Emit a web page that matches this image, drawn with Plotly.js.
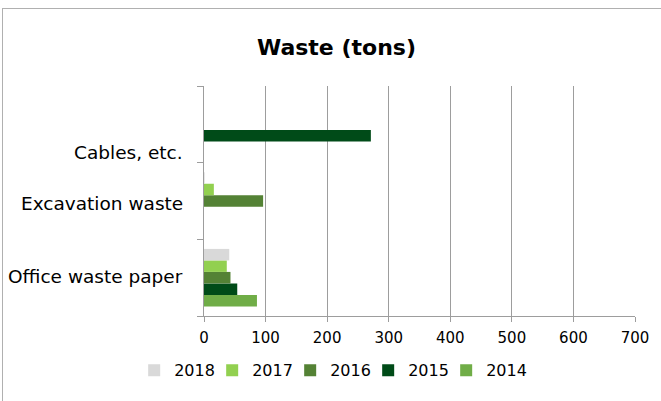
<!DOCTYPE html>
<html>
<head>
<meta charset="utf-8">
<script src="https://cdn.plot.ly/plotly-3.0.1.min.js"></script>
<style>
  html, body { margin: 0; padding: 0; background: #fff; }
  #wrap { position: relative; width: 661px; height: 401px; overflow: hidden; }
  #frame { position: absolute; left: 2px; top: 8px; width: 700px; height: 450px; border: 1px solid #b0b0b0; box-sizing: border-box; }
  #chart { position: absolute; left: 0; top: 0; width: 661px; height: 401px; }
</style>
</head>
<body>
<div id="wrap"><div id="frame"></div><div id="chart"></div></div>
<script>
const categories = ['Office waste paper', 'Excavation waste', 'Cables, etc.'];
const years = ['2014', '2015', '2016', '2017', '2018'];
const v2014 = [86, 0, 0];
const v2015 = [54, 0, 271];
const v2016 = [43, 96, 0];
const v2017 = [37, 16, 0];
const v2018 = [41, 1, 0];
const seriesValues = [v2014, v2015, v2016, v2017, v2018];
const colors = ['#70ad47', '#004b18', '#548235', '#92d050', '#d9d9d9'];

const FONT = 'Tahoma, "DejaVu Sans", Verdana, sans-serif';

// invisible spacer entry so the last legend label is not clipped
const spacer = {
  type: 'scatter', mode: 'markers', name: '\u00a0',
  x: [null], y: [null],
  marker: { color: 'rgba(0,0,0,0)', size: 1 },
  hoverinfo: 'skip', showlegend: true
};

const traces = [spacer].concat(years.map((yr, i) => ({
  type: 'bar',
  orientation: 'h',
  name: yr,
  y: categories,
  x: seriesValues[i],
  marker: { color: colors[i], line: { width: 0 } },
  hoverinfo: 'x+name'
})));

// category label vertical nudges (px), in category order
const labelShift = [1, -2, -28];
const annotations = categories.map((c, i) => ({
  text: c,
  xref: 'paper', x: 0, xanchor: 'right', xshift: -19,
  yref: 'y', y: c, yanchor: 'middle', yshift: labelShift[i],
  showarrow: false,
  font: { family: FONT, size: 18.5, color: '#000' }
}));

const layout = {
  width: 661,
  height: 401,
  paper_bgcolor: 'rgba(0,0,0,0)',
  plot_bgcolor: 'rgba(0,0,0,0)',
  margin: { l: 204, r: 26, t: 86, b: 85 },
  font: { family: FONT, color: '#000', size: 14 },
  title: {
    text: '<b>Waste (tons)</b>',
    font: { family: FONT, size: 22, color: '#000' },
    x: 0.509, xanchor: 'center',
    y: 0.883, yanchor: 'middle'
  },
  barmode: 'group',
  bargap: 0.25,
  bargroupgap: 0,
  xaxis: {
    range: [0, 700],
    dtick: 100,
    tick0: 0,
    showgrid: true,
    gridcolor: '#9d9d9d',
    gridwidth: 1,
    zeroline: false,
    showline: true,
    linecolor: '#9d9d9d',
    ticks: 'outside',
    ticklen: 5,
    tickcolor: '#9d9d9d',
    ticklabelstandoff: 3,
    tickfont: { family: FONT, size: 15, color: '#000' },
    fixedrange: true
  },
  yaxis: {
    type: 'category',
    categoryorder: 'array',
    categoryarray: categories,
    showgrid: false,
    zeroline: false,
    showline: true,
    linecolor: '#9d9d9d',
    ticks: 'outside',
    ticklen: 6,
    tickcolor: '#9d9d9d',
    tickson: 'boundaries',
    showticklabels: false,
    fixedrange: true
  },
  annotations: annotations,
  legend: {
    orientation: 'h',
    traceorder: 'reversed',
    x: -0.162, xanchor: 'left',
    y: -0.162, yanchor: 'top',
    font: { family: FONT, size: 16, color: '#000' },
    itemwidth: 30,
    entrywidth: 33,
    entrywidthmode: 'pixels',
    bgcolor: 'rgba(0,0,0,0)'
  },
  showlegend: true
};

Plotly.newPlot('chart', traces, layout, { displayModeBar: false, staticPlot: true });
</script>
</body>
</html>
